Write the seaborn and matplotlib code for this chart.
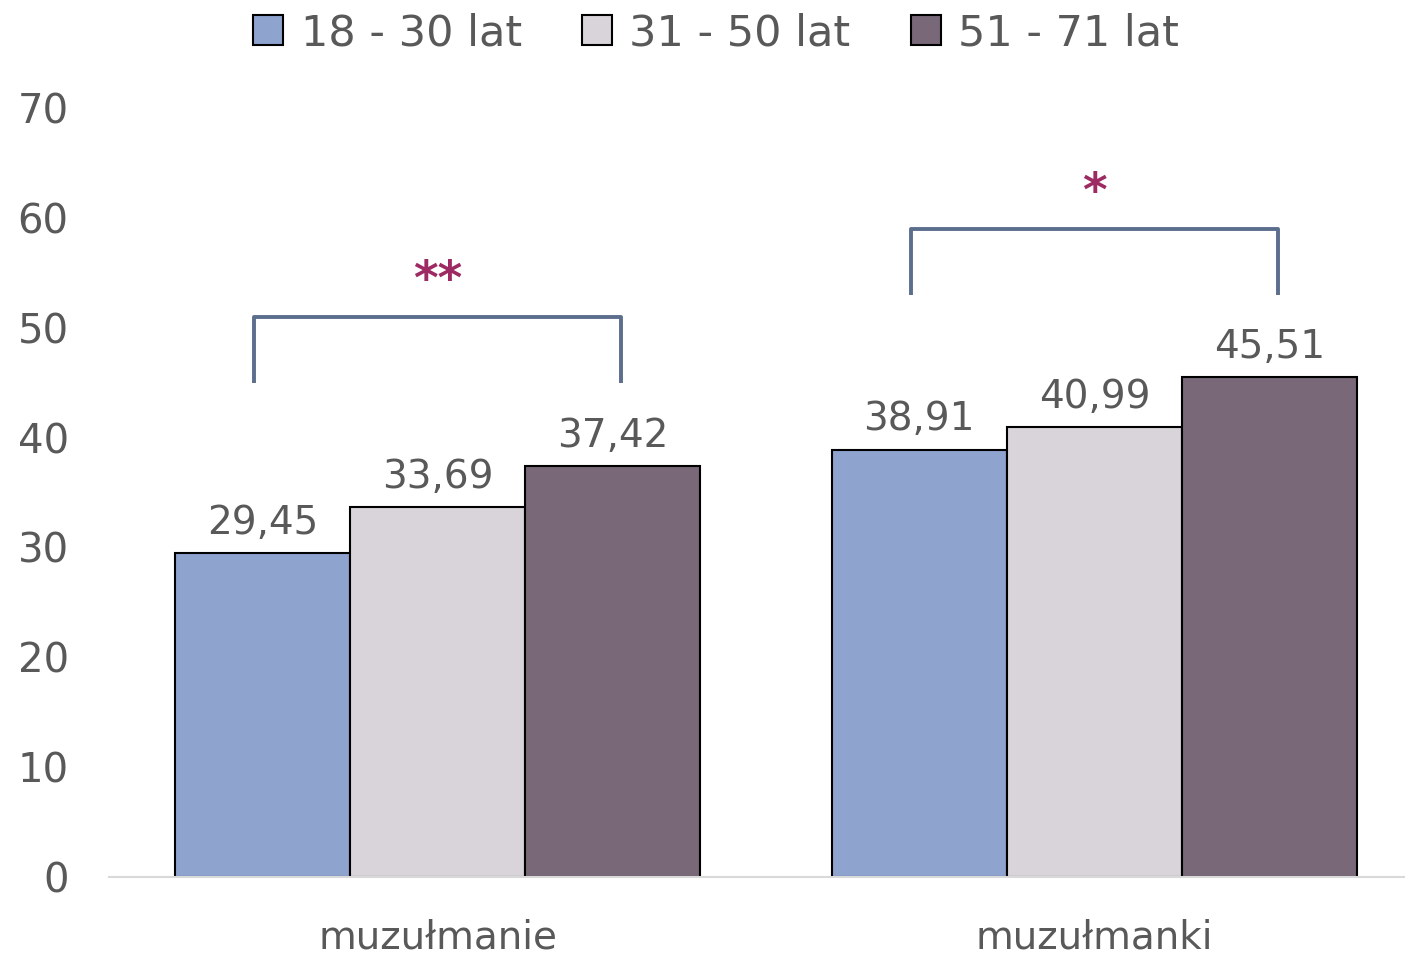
import pandas as pd
import matplotlib.pyplot as plt
import seaborn as sns

# dane
grupy = ["muzułmanie", "muzułmanki"]
wiek = ["18 - 30 lat", "31 - 50 lat", "51 - 71 lat"]
wartosci = {
    "18 - 30 lat": [29.45, 38.91],
    "31 - 50 lat": [33.69, 40.99],
    "51 - 71 lat": [37.42, 45.51],
}
kolory = ["#8FA3CF", "#D8D4DA", "#786878"]

# istotnosc: (grupa, wysokosc nawiasu, gwiazdki)
istotnosc = [("muzułmanie", 51, "**"), ("muzułmanki", 59, "*")]

TEXT = "#595959"


def run_plot():
    rows = []
    for w in wiek:
        for g, v in zip(grupy, wartosci[w]):
            rows.append({"grupa": g, "wiek": w, "wartosc": v})
    df = pd.DataFrame(rows)

    sns.set_theme(style="white")
    plt.rcParams["font.family"] = ["DejaVu Sans"]

    fig = plt.figure(figsize=(14.05, 9.58), dpi=100)
    ax = fig.add_axes([109 / 1405, 81 / 958, 1314 / 1405, 769 / 958])

    sns.barplot(data=df, x="grupa", y="wartosc", hue="wiek", order=grupy,
                hue_order=wiek, palette=kolory, width=0.8, saturation=1,
                edgecolor="black", linewidth=1.5, ax=ax)

    for cont in ax.containers:
        labels = [f"{b.get_height():.2f}".replace(".", ",") for b in cont]
        ax.bar_label(cont, labels=labels, padding=8, fontsize=28, color=TEXT)

    ax.set_xlim(-0.5, 1.5)
    ax.set_ylim(0, 70)
    ax.set_yticks(range(0, 71, 10))
    ax.tick_params(axis="y", labelsize=29, labelcolor=TEXT, length=0, pad=29)
    ax.tick_params(axis="x", labelsize=28, labelcolor=TEXT, length=0, pad=30)
    ax.set_xlabel("")
    ax.set_ylabel("")
    for s in ["top", "right", "left"]:
        ax.spines[s].set_visible(False)
    ax.spines["bottom"].set_color("#D9D9D9")
    ax.spines["bottom"].set_linewidth(1.5)

    # nawiasy istotnosci
    for g, h, gw in istotnosc:
        c = grupy.index(g)
        x0, x1 = c - 0.28, c + 0.28
        ax.plot([x0, x0, x1, x1], [h - 6, h, h, h - 6], color="#5B6E8C",
                lw=2.8, solid_joinstyle="round", solid_capstyle="butt",
                clip_on=False)
        ax.text(c, h + 3.2, gw, ha="center", va="center", fontsize=34,
                fontweight="bold", color="#9E2A63")

    handles, labels = ax.get_legend_handles_labels()
    ax.legend(handles, labels, loc="upper center", bbox_to_anchor=(0.462, 1.175),
              ncol=3, frameon=False, fontsize=31, labelcolor=TEXT,
              handlelength=0.7, handleheight=0.7, handletextpad=0.4,
              columnspacing=1.4)

    fig.savefig("out.png", dpi=100)
    plt.close(fig)


if __name__ == "__main__":
    run_plot()
